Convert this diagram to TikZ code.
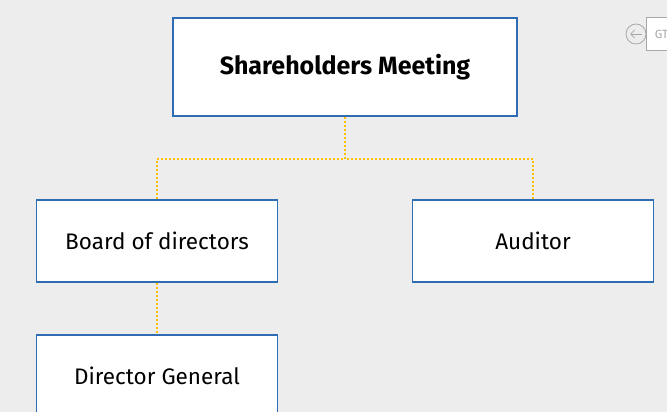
\documentclass[tikz,border=0pt]{standalone}
\usepackage{fontspec}
\setmainfont{Fira Sans}
\usetikzlibrary{positioning,arrows.meta}
\definecolor{boxblue}{HTML}{2E6DB4}
\definecolor{linkgold}{HTML}{FFC000}
\definecolor{pagegray}{HTML}{EDEDED}
\definecolor{icongray}{HTML}{A8A8A8}
\begin{document}
\begin{tikzpicture}[
    x=1pt, y=1pt,
    level 1/.style={sibling distance=376pt, level distance=174pt},
    level 2/.style={level distance=135pt},
    every node/.style={rectangle, draw=boxblue, solid, line width=1.2pt, fill=white, minimum width=241pt, minimum height=82pt, font=\fontsize{22.5}{26}\selectfont},
    top/.style={minimum width=344pt, minimum height=98pt, font=\fontsize{25}{29}\selectfont\bfseries},
    icon/.style={draw=icongray, line width=0.8pt, minimum width=0pt, minimum height=0pt, font=\fontsize{12}{14}\selectfont, text=icongray},
    edge from parent/.style={draw=linkgold, line width=2pt, dash pattern=on 2pt off 2pt},
    edge from parent path={(\tikzparentnode.south) -- ++(0,-42) -| (\tikzchildnode.north)}
]
\clip (0,0) rectangle (667,412);
\fill[pagegray] (0,0) rectangle (667,412);

\node[top] (meeting) at (345,345) {Shareholders Meeting}
    child {node (board) {Board of directors}
        child {node (director) {Director General}}
    }
    child {node (auditor) {Auditor}};

% back button and tab in the corner
\node[icon, circle, fill=pagegray, minimum size=20pt, inner sep=0pt] (back) at (636,378) {};
\draw[icongray, line width=0.8pt, -{Straight Barb[length=4pt]}] ([xshift=6pt]back.center) -- ([xshift=-6pt]back.center);
\node[icon, right=0pt of back, minimum height=33pt, inner xsep=8pt] (tab) {GT};
\end{tikzpicture}
\end{document}
